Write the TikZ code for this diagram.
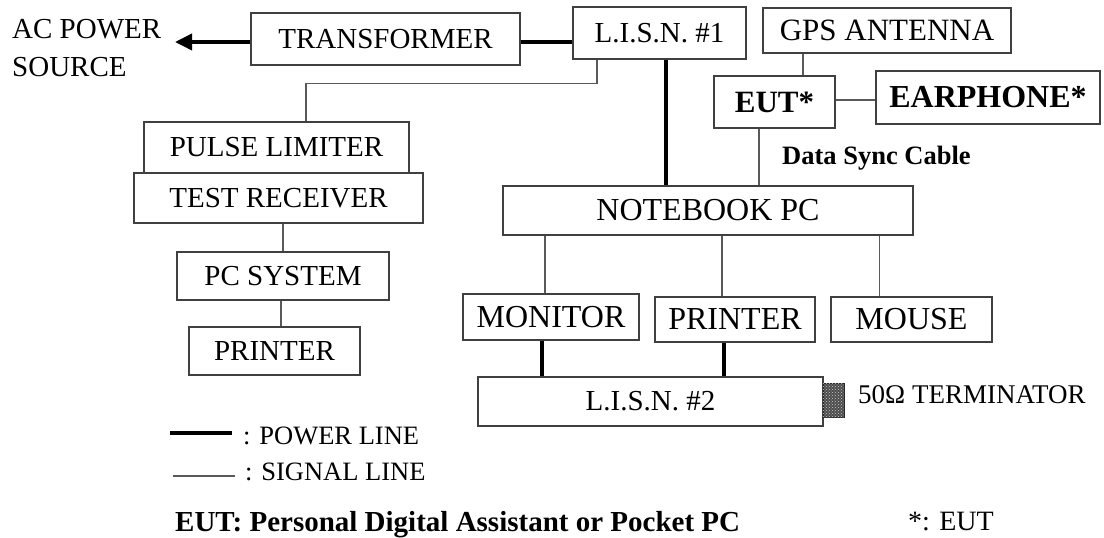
\documentclass[tikz,border=0pt]{standalone}
\usepackage{fontspec}
\setmainfont{Liberation Serif}
\usetikzlibrary{arrows.meta,patterns,calc}
\newcommand{\fs}[1]{\fontsize{#1}{#1}\selectfont}
\begin{document}
\begin{tikzpicture}[x=1pt,y=-1pt,
  box/.style={draw=black!75, line width=1.1pt, inner sep=0pt, minimum width=#1},
  power/.style={line width=3.6pt, black},
  signal/.style={line width=1.1pt, black!65},
  lbl/.style={inner sep=0pt, anchor=base west}]
\fill[white] (0,0) rectangle (1104,538);
\path[use as bounding box] (0,0) rectangle (1104,538);

% left column
\node[lbl, font=\fs{29}] (ac1) at (12,38) {AC POWER};
\node[lbl, font=\fs{29}] (ac2) at (12,76) {SOURCE};
\coordinate (acsrc) at (175,42);
\node[box=269pt, minimum height=52pt, font=\fs{29}] (trans) at (385.5,39) {TRANSFORMER};
\node[box=173pt, minimum height=52pt, font=\fs{29}] (lisn1) at (659.5,33) {L.I.S.N. \#1};
\node[box=265pt, minimum height=51pt, font=\fs{29}] (pulse) at (276.5,147.5) {PULSE LIMITER};
\node[box=289pt, minimum height=50pt, font=\fs{29}] (testrx) at (278.5,198) {TEST RECEIVER};
\node[box=212pt, minimum height=48pt, font=\fs{29}] (pcsys) at (283,276) {PC SYSTEM};
\node[box=171pt, minimum height=48pt, font=\fs{29}] (printl) at (274.5,351) {PRINTER};

% right part
\node[box=248pt, minimum height=45pt, font=\fs{31}] (gps) at (887,30.5) {GPS ANTENNA};
\node[box=121pt, minimum height=52pt, font=\fs{31}\bfseries] (eut) at (774.5,102) {EUT*};
\node[box=224pt, minimum height=53pt, font=\fs{32}\bfseries] (ear) at (988,97.5) {EARPHONE*};
\node[lbl, font=\fs{26.5}\bfseries] (dsc) at (782,164) {Data Sync Cable};
\node[box=410pt, minimum height=49pt, font=\fs{32}] (nb) at (708,210.5) {NOTEBOOK PC};
\node[box=176pt, minimum height=46pt, font=\fs{32}] (mon) at (551,317) {MONITOR};
\node[box=160pt, minimum height=45pt, font=\fs{32}] (printr) at (735,319.5) {PRINTER};
\node[box=161pt, minimum height=45pt, font=\fs{32}] (mouse) at (911.5,319.5) {MOUSE};
\node[box=345pt, minimum height=49pt, font=\fs{29}] (lisn2) at (650.5,401.5) {L.I.S.N. \#2};
\node[draw=black!85, line width=0.6pt, fill=black!70, minimum width=21pt, minimum height=34pt, inner sep=0pt,
      postaction={pattern=crosshatch dots, pattern color=white!80!black}] (term) at (833.5,400) {};
\node[lbl, font=\fs{27}] (termlbl) at (858,403) {50Ω TERMINATOR};

% legend
\coordinate (pl1) at (170,433);
\coordinate (pl2) at (232,433);
\coordinate (sl1) at (173,476);
\coordinate (sl2) at (235,476);
\node[lbl, font=\fs{26.5}] (plt) at (243,444) {: POWER LINE};
\node[lbl, font=\fs{26.5}] (slt) at (245,480) {: SIGNAL LINE};
\node[lbl, font=\fs{29}\bfseries] (eutdef) at (175,531) {EUT: Personal Digital Assistant or Pocket PC};
\node[lbl, font=\fs{28}] (stardef) at (908,530) {*: EUT};

% power lines
\draw[power, -{Triangle[length=17pt,width=16pt]}] (trans.west |- acsrc) -- (acsrc);
\draw[power] (trans.east |- acsrc) -- (lisn1.west |- acsrc);
\draw[power] ([xshift=6.5pt]lisn1.south) -- ([xshift=6.5pt]lisn1.south |- nb.north);
\draw[power] ([xshift=-9pt]mon.south) -- ([xshift=-9pt]mon.south |- lisn2.north);
\draw[power] ([xshift=-11pt]printr.south) -- ([xshift=-11pt]printr.south |- lisn2.north);
\draw[power] (pl1) -- (pl2);

% signal lines
\draw[signal] ([xshift=-62.5pt]lisn1.south) -- ++(0,24) -| ([xshift=29.5pt]pulse.north);
\draw[signal] (pcsys.north) -- (pcsys.north |- testrx.south);
\draw[signal] ([xshift=-2pt]pcsys.south) -- ([xshift=-2pt]pcsys.south |- printl.north);
\draw[signal] ([xshift=28.5pt]eut.north) -- ([xshift=28.5pt]eut.north |- gps.south);
\draw[signal] ([yshift=2pt]eut.east) -- ([yshift=2pt]eut.east -| ear.west);
\draw[signal] ([xshift=-15.5pt]eut.south) -- ([xshift=-15.5pt]eut.south |- nb.north);
\draw[signal] ([xshift=-6pt]mon.north) -- ([xshift=-6pt]mon.north |- nb.south);
\draw[signal] ([xshift=-13pt]printr.north) -- ([xshift=-13pt]printr.north |- nb.south);
\draw[signal] ([xshift=-32pt]mouse.north) -- ([xshift=-32pt]mouse.north |- nb.south);
\draw[signal] (sl1) -- (sl2);
\end{tikzpicture}
\end{document}
